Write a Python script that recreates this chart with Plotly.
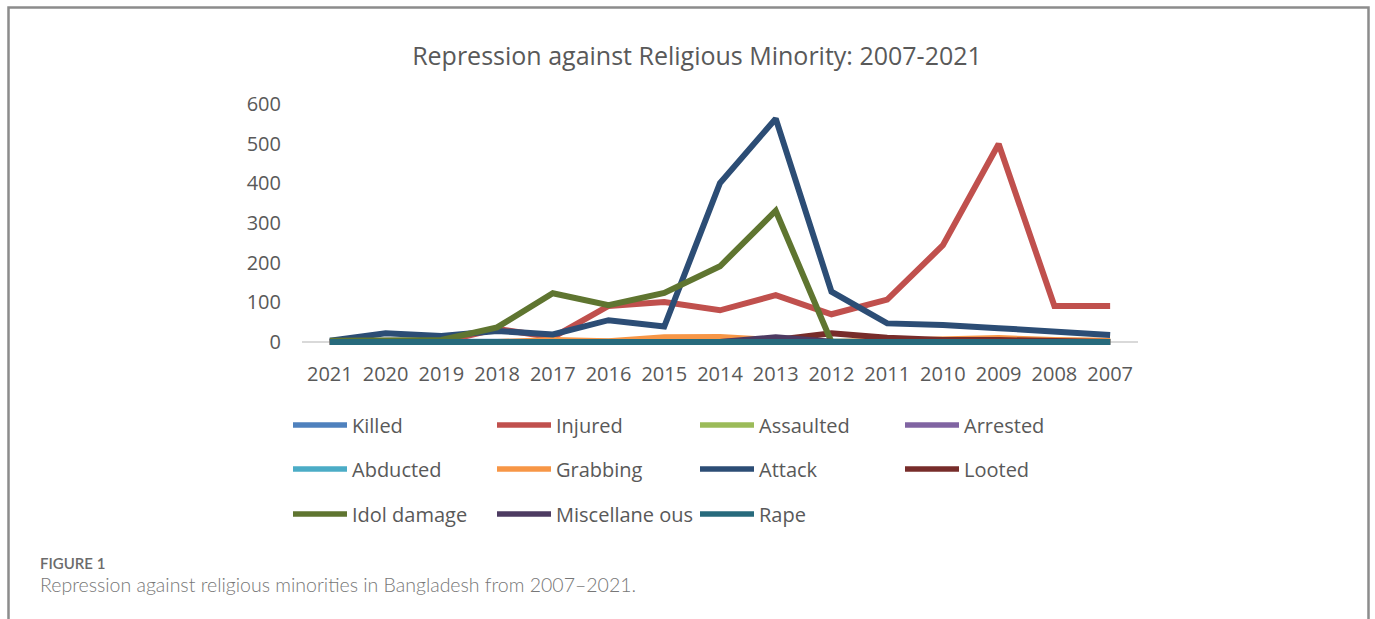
import plotly.graph_objects as go

years = ["2021", "2020", "2019", "2018", "2017", "2016", "2015", "2014",
         "2013", "2012", "2011", "2010", "2009", "2008", "2007"]

killed = [1, 1, 0, 2, 2, 1, 2, 3, 3, 2, 1, 2, 3, 2, 1]
injured = [0, 0, 0, 33, 12, 91, 101, 80, 118, 70, 107, 244, 499, 91, 91]
assaulted = [0, 0, 0, 1, 2, 1, 2, 2, 3, 1, 1, 2, 2, 1, 1]
arrested = [0, 0, 0, 0, 1, 1, 1, 2, 2, 1, 0, 1, 1, 1, 0]
abducted = [0, 0, 0, 1, 1, 1, 2, 2, 2, 1, 1, 1, 2, 1, 1]
grabbing = [0, 0, 0, 0, 5, 2, 12, 13, 5, 0, 3, 6, 10, 5, 3]
attack = [3, 22, 15, 28, 19, 55, 39, 401, 563, 127, 47, 43, 35, 26, 18]
looted = [0, 0, 0, 0, 0, 0, 0, 0, 5, 22, 11, 5, 5, 3, 0]
idol_damage = [3, 5, 5, 37, 123, 93, 124, 191, 331, 0, 0, 0, 0, 0, 0]
miscellaneous = [0, 0, 0, 0, 0, 0, 0, 0, 12, 1, 0, 0, 0, 0, 0]
rape = [0, 0, 0, 0, 0, 0, 0, 0, 0, 0, 0, 0, 0, 0, 0]

series_names = ["Killed", "Injured", "Assaulted", "Arrested", "Abducted", "Grabbing",
                "Attack", "Looted", "Idol damage", "Miscellane ous", "Rape"]
series_values = [killed, injured, assaulted, arrested, abducted, grabbing,
                 attack, looted, idol_damage, miscellaneous, rape]
colors = ["#4F81BD", "#C0504D", "#9BBB59", "#8064A2", "#4BACC6", "#F79646",
          "#2C4D75", "#772C2A", "#5F7530", "#4D3B62", "#276A7C"]

y_ticks = [0, 100, 200, 300, 400, 500, 600]

# layout geometry (pixels)
W, H = 1375, 619
PL, PR = 302, 1138
PT, PB = 104, 346

def px(x):
    return (x - PL) / (PR - PL)

def py(y):
    return (PB - y) / (PB - PT)

fig = go.Figure()
for name, vals, col in zip(series_names, series_values, colors):
    fig.add_trace(go.Scatter(x=years, y=vals, mode="lines", name=name,
                             line=dict(color=col, width=6),
                             showlegend=False))

font_main = "Open Sans, Arial, sans-serif"
txt_col = "#595959"

fig.update_layout(
    width=W, height=H,
    margin=dict(l=PL, r=W - PR, t=PT, b=H - PB, pad=0),
    paper_bgcolor="white", plot_bgcolor="white",
    title=dict(text="Repression against Religious Minority: 2007-2021",
               x=697 / W, xanchor="center", y=1 - 56 / H, yanchor="middle",
               font=dict(family=font_main, size=25, color=txt_col)),
    xaxis=dict(type="category", categoryorder="array", categoryarray=years,
               range=[-0.5, len(years) - 0.5], showgrid=False, showline=False,
               zeroline=False, ticks="", ticklabelstandoff=14,
               tickfont=dict(family=font_main, size=20, color=txt_col)),
    yaxis=dict(range=[-10, 600], tickvals=y_ticks, showgrid=False, showline=False,
               zeroline=True, zerolinecolor="#D9D9D9", zerolinewidth=1.5,
               ticks="", ticklabelstandoff=20,
               tickfont=dict(family=font_main, size=20, color=txt_col)),
    showlegend=False,
)

# frame (open at bottom)
fx0, fx1, fy0, fy1 = px(8.5), px(1368.5), py(7.5), py(640)
fig.add_shape(type="path", xref="paper", yref="paper",
              path=f"M {fx0},{fy1} L {fx0},{fy0} L {fx1},{fy0} L {fx1},{fy1}",
              line=dict(color="#8C8C8C", width=2.5))

# custom legend (3 rows x 4 columns)
col_x = [293, 497, 700, 905]
row_y = [425, 469, 514]
for i, (name, col) in enumerate(zip(series_names, colors)):
    r, c = divmod(i, 4)
    x0 = col_x[c]
    y0 = row_y[r]
    fig.add_shape(type="line", xref="paper", yref="paper",
                  x0=px(x0), x1=px(x0 + 54), y0=py(y0), y1=py(y0),
                  line=dict(color=col, width=5.5))
    fig.add_annotation(xref="paper", yref="paper", x=px(x0 + 57), y=py(y0),
                       xanchor="left", yanchor="middle", showarrow=False,
                       text=name, font=dict(family=font_main, size=20, color=txt_col))

# caption
fig.add_annotation(xref="paper", yref="paper", x=px(38), y=py(563),
                   xanchor="left", yanchor="middle", showarrow=False,
                   text="FIGURE 1",
                   font=dict(family="Lato, sans-serif", size=15, color="#6b6b6b", weight=600))
fig.add_annotation(xref="paper", yref="paper", x=px(38), y=py(584),
                   xanchor="left", yanchor="middle", showarrow=False,
                   text="Repression against religious minorities in Bangladesh from 2007\u20132021.",
                   font=dict(family="Lato, sans-serif", size=19.5, color="#777777", weight=300))

fig.write_html("out.html")
